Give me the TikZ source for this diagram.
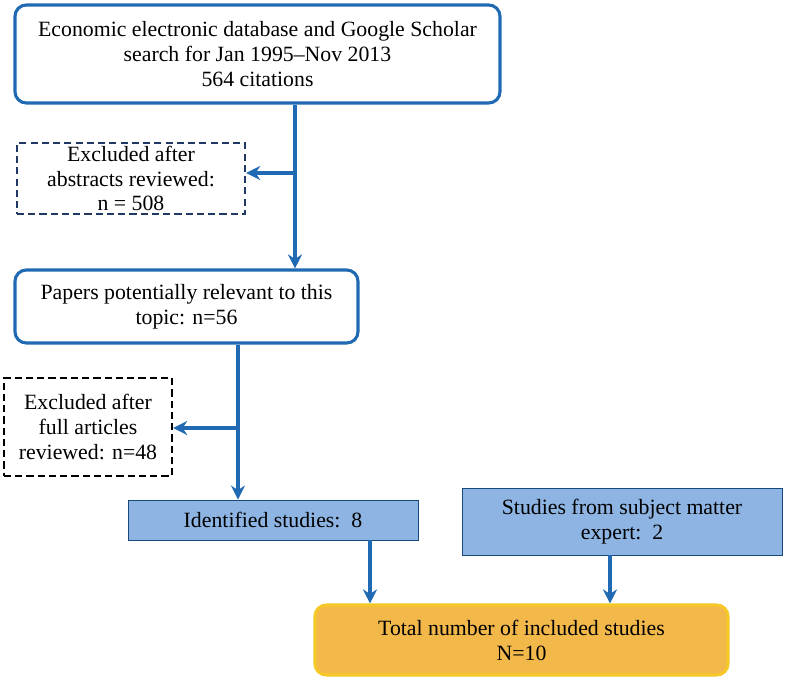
\documentclass[tikz,border=0pt]{standalone}
\usepackage{fontspec}
\setmainfont{Liberation Serif}
\newfontfamily\timesfont{Liberation Serif}[Ligatures=TeX]
\usetikzlibrary{arrows.meta}
\definecolor{boxblue}{RGB}{31,106,178}
\definecolor{navy}{RGB}{31,56,100}
\definecolor{lightblue}{RGB}{141,180,226}
\definecolor{orangefill}{RGB}{242,184,74}
\definecolor{goldline}{RGB}{245,200,40}
\begin{document}
\begin{tikzpicture}[x=0.025cm, y=-0.025cm,
  every node/.style={font=\timesfont\fontsize{15.5}{17.7}\selectfont, align=center, inner sep=2pt},
  main/.style={draw=boxblue, line width=2.2pt, rounded corners=8pt, fill=white},
  excl/.style={draw=navy, line width=1.6pt, dash pattern=on 5pt off 3pt},
  found/.style={draw=boxblue!70!black, line width=0.6pt, fill=lightblue},
  flow/.style={draw=boxblue, line width=2.2pt, -{Stealth[length=10pt, width=10pt]}}]
	\useasboundingbox (0,0) rectangle (800,684);
	\node [main, minimum width=485*0.025cm, minimum height=98*0.025cm] (search) at (257.5,54) {Economic electronic database and Google Scholar\\search for Jan 1995\textendash Nov 2013\\564 citations};
	\node [excl, minimum width=228*0.025cm, minimum height=67*0.025cm] (abstr) at (131,178.5) {Excluded after\\abstracts reviewed:\\n = 508};
	\node [main, minimum width=343*0.025cm, minimum height=73*0.025cm] (relev) at (186.5,306.5) {Papers potentially relevant to this\\topic: n=56};
	\node [excl, draw=black, minimum width=168*0.025cm, minimum height=98*0.025cm] (full) at (88,427) {Excluded after\\full articles\\reviewed: n=48};
	\node [found, minimum width=290*0.025cm, minimum height=40*0.025cm] (ident) at (273,520) {Identified studies:\ \ 8};
	\node [found, minimum width=320*0.025cm, minimum height=67*0.025cm] (expert) at (622,521.5) {Studies from subject matter\\expert:\ \ 2};
	\node [main, draw=goldline, fill=orangefill, minimum width=413*0.025cm, minimum height=70*0.025cm] (total) at (521.5,640) {Total number of included studies\\N=10};

	\coordinate (j1) at (295,173);
	\coordinate (j2) at (238,428);
	\draw [flow] (search.south -| j1) -- (relev.north -| j1);
	\draw [flow] (j1) -- (abstr.east |- j1);
	\draw [flow] (relev.south -| j2) -- (ident.north -| j2);
	\draw [flow] (j2) -- (full.east |- j2);
	\draw [flow] (ident.south -| 370,0) -- (total.north -| 370,0);
	\draw [flow] (expert.south -| 610,0) -- (total.north -| 610,0);
\end{tikzpicture}
\end{document}
